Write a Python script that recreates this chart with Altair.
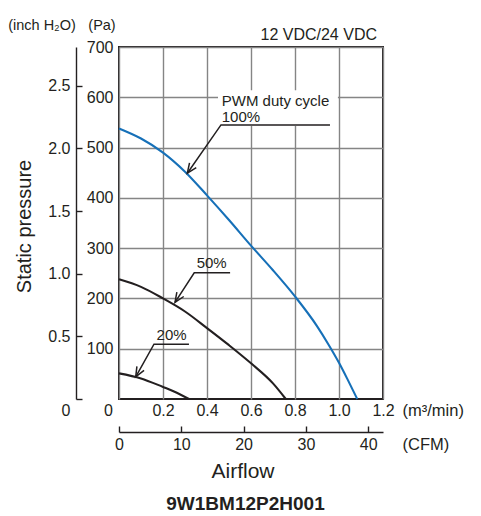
import math
import altair as alt
import pandas as pd

# ---------------- data ----------------
PA_PER_INCH = 249.089          # 1 inch H2O in Pa
M3MIN_PER_CFM = 0.0283168      # 1 CFM in m3/min

flow_100 = [0.0, 0.1, 0.2, 0.3, 0.4, 0.5, 0.6, 0.7, 0.8, 0.9, 0.95, 1.0, 1.04, 1.083]
pa_100 = [538, 518, 490, 452, 405, 356, 305, 256, 204, 145, 110, 72, 38, 0]

flow_50 = [0.0, 0.1, 0.2, 0.3, 0.4, 0.5, 0.6, 0.7, 0.758]
pa_50 = [238, 223, 200, 174, 141, 107, 71, 31, 0]

flow_20 = [0.0, 0.1, 0.2, 0.25, 0.318]
pa_20 = [51, 41, 24, 15, 0]

x_ticks = [0, 0.2, 0.4, 0.6, 0.8, 1.0, 1.2]
pa_ticks = [100, 200, 300, 400, 500, 600, 700]
inch_ticks = [0, 0.5, 1.0, 1.5, 2.0, 2.5]
cfm_ticks = [0, 10, 20, 30, 40]

# annotations: label, text position, underline (left, right, level), arrow tip
ann_label = ["100%", "50%", "20%"]
ann_text_x = [0.467, 0.353, 0.171]
ann_text_pa = [561, 270, 127]
ann_line_x0 = [0.4636, 0.342, 0.159]
ann_line_x1 = [0.959, 0.505, 0.318]
ann_line_pa = [545, 251, 109]
ann_tip_x = [0.3105, 0.2545, 0.076]
ann_tip_pa = [449, 192, 44]

# ---------------- tables ----------------
curves = pd.DataFrame(
    [{"flow": f, "pa": p, "duty": "100%"} for f, p in zip(flow_100, pa_100)]
    + [{"flow": f, "pa": p, "duty": "50%"} for f, p in zip(flow_50, pa_50)]
    + [{"flow": f, "pa": p, "duty": "20%"} for f, p in zip(flow_20, pa_20)]
)

W, H = 264, 352
PX_X = W / 1.2
PX_Y = H / 700.0

leader_rows, tip_rows = [], []
for i, lab in enumerate(ann_label):
    leader_rows += [
        {"g": lab, "o": 0, "flow": ann_line_x1[i], "pa": ann_line_pa[i]},
        {"g": lab, "o": 1, "flow": ann_line_x0[i], "pa": ann_line_pa[i]},
        {"g": lab, "o": 2, "flow": ann_tip_x[i], "pa": ann_tip_pa[i]},
    ]
    dxp = (ann_tip_x[i] - ann_line_x0[i]) * PX_X
    dyp = (ann_line_pa[i] - ann_tip_pa[i]) * PX_Y
    ang = math.degrees(math.atan2(-dxp, dyp)) % 360
    tip_rows.append({"flow": ann_tip_x[i], "pa": ann_tip_pa[i], "ang": ang})
leaders = pd.DataFrame(leader_rows)
tips = pd.DataFrame(tip_rows)

texts = pd.DataFrame({
    "flow": [ann_text_x[0]] + ann_text_x,
    "pa": [592] + ann_text_pa,
    "t": ["PWM duty cycle"] + ann_label,
})
box = pd.DataFrame({"flow": [0.45], "flow2": [0.995], "pa": [614], "pa2": [543]})

FONT = "Liberation Sans, Arial, Helvetica, sans-serif"
INK = "#231f20"
GRID = "#858585"
LBL = 16

x_axis = alt.Axis(
    values=x_ticks, grid=True, gridColor=GRID, gridWidth=1.4, ticks=False, domain=False,
    labelExpr="datum.value == 0 ? '0' : format(datum.value, '.1f')",
    labelOffset={"condition": {"test": "datum.value == 0", "value": -11}, "value": 0},
    labelFlush=False, labelOverlap=False,
    labelFont=FONT, labelFontSize=LBL, labelColor=INK, labelPadding=11, labelBaseline="middle",
    title="(m³/min)", titleFont=FONT, titleFontSize=16.5, titleFontWeight="normal", titleColor=INK,
    titleAnchor="start", titleAlign="left", titleBaseline="middle", titleX=283, titleY=11,
)
y_axis = alt.Axis(
    values=pa_ticks, grid=True, gridColor=GRID, gridWidth=1.4, ticks=False, domain=False,
    labelFont=FONT, labelFontSize=LBL, labelColor=INK, labelPadding=6,
    labelFlush=False, labelOverlap=False,
    title="(Pa)", titleFont=FONT, titleFontSize=14.5, titleFontWeight="normal", titleColor=INK,
    titleAngle=0, titleAlign="center", titleBaseline="middle", titleX=-17.5, titleY=-22,
)
xs = alt.Scale(domain=[0, 1.2], nice=False, zero=True)
ys = alt.Scale(domain=[0, 700], nice=False, zero=True)


def X(field):
    return alt.X(field, type="quantitative", scale=xs, axis=x_axis)


def Y(field):
    return alt.Y(field, type="quantitative", scale=ys, axis=y_axis)


box_layer = alt.Chart(box).mark_rect(color="white").encode(
    x=X("flow"), x2="flow2", y=Y("pa"), y2="pa2")

curve_layer = alt.Chart(curves).mark_line(interpolate="monotone", strokeWidth=2.1).encode(
    x=X("flow"), y=Y("pa"),
    color=alt.Color("duty:N", scale=alt.Scale(domain=["100%", "50%", "20%"],
                                              range=["#1670b8", INK, INK]), legend=None),
    detail="duty:N",
)

leader_layer = alt.Chart(leaders).mark_line(color=INK, strokeWidth=1.5).encode(
    x=X("flow"), y=Y("pa"), detail="g:N", order="o:Q")

tip_layer = alt.Chart(tips).mark_point(
    shape="M -0.42,-1 L 0,0 L 0.42,-1", filled=False, color=INK, strokeWidth=1.5,
    size=380, opacity=1).encode(
    x=X("flow"), y=Y("pa"), angle=alt.Angle("ang:Q", scale=None))

text_layer = alt.Chart(texts).mark_text(
    align="left", baseline="middle", font=FONT, fontSize=15, color=INK).encode(
    x=X("flow"), y=Y("pa"), text="t:N")


def free_text(txt, x, y, **kw):
    return alt.Chart(pd.DataFrame({"t": [txt]})).mark_text(color=INK, **kw).encode(
        x=alt.value(x), y=alt.value(y), text="t:N")


main = alt.layer(
    box_layer, curve_layer, leader_layer, tip_layer, text_layer,
    free_text("12 VDC/24 VDC", 258, -12, align="right", baseline="middle", font=FONT, fontSize=16),
    free_text("Static pressure", -88.5, 179.5, align="center", baseline="alphabetic",
              font=FONT, fontSize=20, angle=270),
    free_text("Airflow", 124, 430.5, align="center", baseline="alphabetic", font=FONT, fontSize=21),
    free_text("9W1BM12P2H001", 126.5, 463, align="center", baseline="alphabetic",
              font=FONT, fontSize=19, fontWeight="bold"),
)

inch_layer = alt.Chart(pd.DataFrame({"inch": inch_ticks})).mark_rule(opacity=0).encode(
    y=alt.Y("inch:Q", scale=alt.Scale(domain=[0, 700 / PA_PER_INCH], nice=False, zero=True),
            axis=alt.Axis(
                orient="right", offset=-(W + 43), values=inch_ticks, grid=False,
                domain=True, domainColor=INK, domainWidth=1.4,
                ticks=True, tickColor=INK, tickWidth=1.4, tickSize=6,
                labelExpr="datum.value == 0 ? '0' : format(datum.value, '.1f')",
                labelOffset={"condition": {"test": "datum.value == 0", "value": 11}, "value": 0},
                labelFlush=False, labelOverlap=False,
                labelAlign="right", labelPadding=-12, labelBaseline="middle",
                labelFont=FONT, labelFontSize=LBL, labelColor=INK,
                title="(inch H₂O)", titleFont=FONT, titleFontSize=14.5, titleFontWeight="normal",
                titleColor=INK, titleAngle=0, titleAlign="center", titleBaseline="middle",
                titleX=-34.5, titleY=-22,
            ))
)

cfm_layer = alt.Chart(pd.DataFrame({"cfm": cfm_ticks})).mark_rule(opacity=0).encode(
    x=alt.X("cfm:Q", scale=alt.Scale(domain=[0, 1.2 / M3MIN_PER_CFM], nice=False, zero=True),
            axis=alt.Axis(
                orient="top", offset=-(H + 33), values=cfm_ticks, grid=False,
                domain=True, domainColor=INK, domainWidth=1.4,
                ticks=True, tickColor=INK, tickWidth=1.4, tickSize=6,
                labelFlush=False, labelOverlap=False,
                labelBaseline="middle", labelPadding=-18.5,
                labelFont=FONT, labelFontSize=LBL, labelColor=INK,
                title="(CFM)", titleFont=FONT, titleFontSize=16.5, titleFontWeight="normal",
                titleColor=INK, titleAnchor="start", titleAlign="left", titleBaseline="middle",
                titleX=283, titleY=12.5,
            ))
)

chart = alt.layer(main, inch_layer, cfm_layer).resolve_scale(
    x="independent", y="independent"
).properties(
    width=W, height=H,
    padding={"left": 111, "top": 39, "right": 90, "bottom": 117},
    autosize=alt.AutoSizeParams(type="none"),
).configure_view(stroke=INK, strokeWidth=2)

chart.save("out.html", embed_options={"renderer": "svg", "actions": False})
